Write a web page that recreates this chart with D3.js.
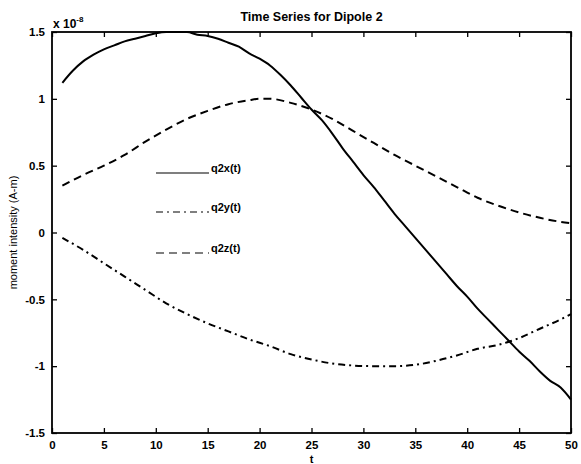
<!DOCTYPE html>
<html>
<head>
<meta charset="utf-8">
<script src="https://cdn.jsdelivr.net/npm/d3@7"></script>
<style>
  body { margin: 0; background: #fff; }
  svg { font-family: "Liberation Sans", Arial, sans-serif; font-weight: bold; }
</style>
</head>
<body>
<script>
const xTicks = [0, 5, 10, 15, 20, 25, 30, 35, 40, 45, 50]
const yTicks = [-1.5, -1, -0.5, 0, 0.5, 1, 1.5]
const yTickLabels = ['-1.5', '-1', '-0.5', '0', '0.5', '1', '1.5']

// q2x(t), solid
const tX = [1, 2, 3, 4, 5, 6, 7, 8, 9, 10, 11, 12, 13, 14, 15, 16, 17, 18, 19, 20,
  21, 22, 23, 24, 25, 26, 27, 28, 29, 30, 31, 32, 33, 34, 35, 36, 37, 38, 39, 40,
  41, 42, 43, 44, 45, 46, 47, 48, 49, 50]
const q2x = [1.12, 1.21, 1.28, 1.33, 1.37, 1.40, 1.43, 1.45, 1.47, 1.49, 1.50, 1.50, 1.50, 1.48, 1.47, 1.45, 1.42, 1.39, 1.34, 1.30,
  1.25, 1.18, 1.10, 1.01, 0.92, 0.84, 0.74, 0.63, 0.53, 0.43, 0.34, 0.24, 0.14, 0.05, -0.04, -0.13, -0.22, -0.31, -0.40, -0.48,
  -0.57, -0.65, -0.73, -0.81, -0.89, -0.96, -1.04, -1.11, -1.16, -1.25]

// q2y(t), dash-dot
const tY = [1, 3, 5, 7, 9, 11, 13, 15, 17, 19, 21, 23, 25, 27, 29, 31, 33, 35, 37, 39, 41, 43, 45, 47, 49, 50]
const q2y = [-0.04, -0.13, -0.23, -0.33, -0.43, -0.53, -0.61, -0.68, -0.74, -0.80, -0.85, -0.91, -0.95, -0.98, -0.995, -1.00,
  -1.00, -0.99, -0.96, -0.92, -0.87, -0.84, -0.79, -0.72, -0.65, -0.61]

// q2z(t), dashed
const tZ = [1, 3, 5, 7, 9, 11, 13, 15, 17, 19, 20, 21, 23, 25, 27, 29, 31, 33, 35, 37, 39, 41, 43, 45, 47, 49, 50]
const q2z = [0.35, 0.43, 0.50, 0.58, 0.68, 0.77, 0.85, 0.91, 0.96, 0.99, 1.00, 1.00, 0.97, 0.92, 0.85, 0.76, 0.67, 0.58,
  0.50, 0.42, 0.34, 0.26, 0.20, 0.15, 0.11, 0.08, 0.07]

const legendLabels = ['q2x(t)', 'q2y(t)', 'q2z(t)']

const size = { width: 581, height: 464 }
const plot = { left: 52, right: 571, top: 32, bottom: 433 }

const svg = d3.select('body').append('svg')
  .attr('width', size.width)
  .attr('height', size.height)

const xScale = d3.scaleLinear().domain([0, 50]).range([plot.left, plot.right])
const yScale = d3.scaleLinear().domain([-1.5, 1.5]).range([plot.bottom, plot.top])

// ticks pointing inward on all four sides
const tick = 5
svg.append('g')
  .attr('transform', 'translate(0,' + plot.bottom + ')')
  .call(d3.axisBottom(xScale).tickValues(xTicks).tickSizeInner(-tick).tickSizeOuter(0).tickPadding(8))
svg.append('g')
  .attr('transform', 'translate(0,' + plot.top + ')')
  .call(d3.axisTop(xScale).tickValues(xTicks).tickSizeInner(-tick).tickSizeOuter(0).tickFormat(''))
svg.append('g')
  .attr('transform', 'translate(' + plot.left + ',0)')
  .call(d3.axisLeft(yScale).tickValues(yTicks).tickSizeInner(-tick).tickSizeOuter(0).tickPadding(7)
    .tickFormat((d, i) => yTickLabels[i]))
svg.append('g')
  .attr('transform', 'translate(' + plot.right + ',0)')
  .call(d3.axisRight(yScale).tickValues(yTicks).tickSizeInner(-tick).tickSizeOuter(0).tickFormat(''))

svg.selectAll('.domain').remove()
svg.selectAll('.tick line').attr('stroke', '#000').attr('stroke-width', 1.3)
svg.selectAll('.tick text')
  .attr('fill', '#000')
  .style('font-size', '11.5px')
  .style('font-family', '"Liberation Sans", Arial, sans-serif')
  .style('font-weight', 'bold')

svg.append('rect')
  .attr('x', plot.left)
  .attr('y', plot.top)
  .attr('width', plot.right - plot.left)
  .attr('height', plot.bottom - plot.top)
  .attr('fill', 'none')
  .attr('stroke', '#000')
  .attr('stroke-width', 1.8)

const line = d3.line()
  .x(d => xScale(d[0]))
  .y(d => yScale(d[1]))
  .curve(d3.curveMonotoneX)

const series = [
  { t: tX, v: q2x, dash: null },
  { t: tY, v: q2y, dash: '7,4,2,4' },
  { t: tZ, v: q2z, dash: '8,5' },
]

series.forEach(s => {
  svg.append('path')
    .datum(s.t.map((t, i) => [t, s.v[i]]))
    .attr('d', line)
    .attr('fill', 'none')
    .attr('stroke', '#000')
    .attr('stroke-width', 2)
    .attr('stroke-dasharray', s.dash)
})

// legend
const legendY = [173, 212, 253]
series.forEach((s, i) => {
  svg.append('line')
    .attr('x1', 156).attr('x2', 209)
    .attr('y1', legendY[i]).attr('y2', legendY[i])
    .attr('stroke', '#000')
    .attr('stroke-width', 1.2)
    .attr('stroke-dasharray', s.dash)
  svg.append('text')
    .attr('x', 211)
    .attr('y', legendY[i] - 1)
    .style('font-size', '11px')
    .text(legendLabels[i])
})

// title and labels
svg.append('text')
  .attr('x', (plot.left + plot.right) / 2)
  .attr('y', 21)
  .attr('text-anchor', 'middle')
  .style('font-size', '12.5px')
  .text('Time Series for Dipole 2')

const expo = svg.append('text')
  .attr('x', plot.left + 1)
  .attr('y', 28)
  .style('font-size', '12px')
expo.append('tspan').text('x 10')
expo.append('tspan').attr('dy', -6).style('font-size', '8px').text('-8')

svg.append('text')
  .attr('x', (plot.left + plot.right) / 2)
  .attr('y', 463)
  .attr('text-anchor', 'middle')
  .style('font-size', '11px')
  .text('t')

svg.append('text')
  .attr('transform', 'translate(17,' + (plot.top + plot.bottom) / 2 + ')rotate(-90)')
  .attr('text-anchor', 'middle')
  .style('font-size', '11px')
  .style('font-weight', 'normal')
  .text('moment intensity (A-m)')
</script>
</body>
</html>
